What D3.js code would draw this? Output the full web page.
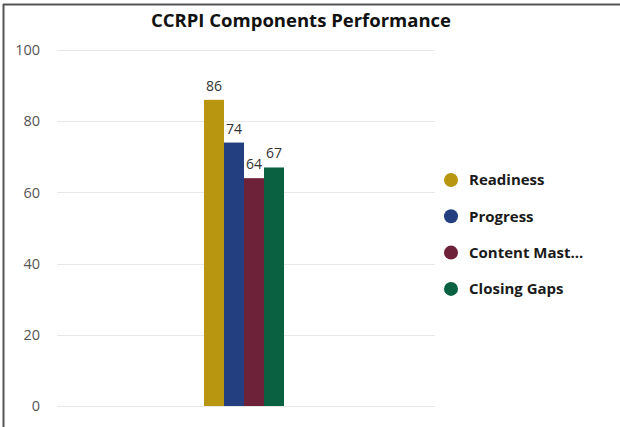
<!DOCTYPE html>
<html>
<head>
<meta charset="utf-8">
<script src="https://cdn.jsdelivr.net/npm/d3@7"></script>
<style>
  html, body { margin: 0; padding: 0; background: #fff; }
  svg { display: block; }
</style>
</head>
<body>
<svg id="chart" width="620" height="427"></svg>
<script>
// CCRPI component scores
const components = ["Readiness", "Progress", "Content Mastery", "Closing Gaps"];
const legendLabels = ["Readiness", "Progress", "Content Mast...", "Closing Gaps"];
const scores = [86, 74, 64, 67];
const colors = ["#B8960F", "#243F80", "#6D2239", "#0A6141"];
const yTicks = [0, 20, 40, 60, 80, 100];

const svg = d3.select("#chart");
const W = 620, H = 427;

// panel frame
svg.append("line").attr("x1", 3).attr("x2", W).attr("y1", 4.5).attr("y2", 4.5)
  .attr("stroke", "#555").attr("stroke-width", 2);
svg.append("line").attr("x1", 3.5).attr("x2", 3.5).attr("y1", 4).attr("y2", H)
  .attr("stroke", "#555").attr("stroke-width", 2);

svg.append("text")
  .attr("x", 301).attr("y", 27)
  .attr("text-anchor", "middle")
  .attr("font-family", "'Open Sans', sans-serif")
  .attr("font-weight", 700)
  .attr("font-size", 18.5)
  .attr("fill", "#111")
  .text("CCRPI Components Performance");

const plotLeft = 57, plotRight = 435;
const y = d3.scaleLinear().domain([0, 100]).range([406, 50]);

// group band: one category with four series bars
const x = d3.scaleBand().domain(components).range([204, 284]).padding(0);

// gridlines
svg.append("g").selectAll("line").data(yTicks).join("line")
  .attr("x1", plotLeft).attr("x2", plotRight)
  .attr("y1", d => Math.round(y(d)) + 0.5).attr("y2", d => Math.round(y(d)) + 0.5)
  .attr("stroke", "#e8e8e8").attr("stroke-width", 1);

// y axis labels
const yAxis = d3.axisLeft(y).tickValues(yTicks).tickSize(0).tickPadding(0);
const gy = svg.append("g").attr("transform", "translate(40,0)").call(yAxis);
gy.select(".domain").remove();
gy.selectAll("text")
  .attr("font-family", "'Open Sans', sans-serif")
  .attr("font-size", 14.5)
  .attr("fill", "#555");

// bars
svg.append("g").selectAll("rect").data(scores).join("rect")
  .attr("x", (d, i) => x(components[i]))
  .attr("width", x.bandwidth())
  .attr("y", d => y(d))
  .attr("height", d => y(0) - y(d))
  .attr("fill", (d, i) => colors[i]);

// value labels
svg.append("g").selectAll("text").data(scores).join("text")
  .attr("x", (d, i) => x(components[i]) + x.bandwidth() / 2)
  .attr("y", d => y(d) - 9)
  .attr("text-anchor", "middle")
  .attr("font-family", "'Open Sans', sans-serif")
  .attr("font-size", 14)
  .attr("fill", "#333")
  .text(d => d);

// legend
const legend = svg.append("g").selectAll("g").data(legendLabels).join("g")
  .attr("transform", (d, i) => `translate(451,${180 + i * 36.3})`);
legend.append("circle").attr("r", 7).attr("fill", (d, i) => colors[i]);
legend.append("text")
  .attr("x", 18).attr("dy", "0.35em")
  .attr("font-family", "'Open Sans', sans-serif")
  .attr("font-weight", 700)
  .attr("font-size", 15)
  .attr("fill", "#1a1a1a")
  .text(d => d);
</script>
</body>
</html>
